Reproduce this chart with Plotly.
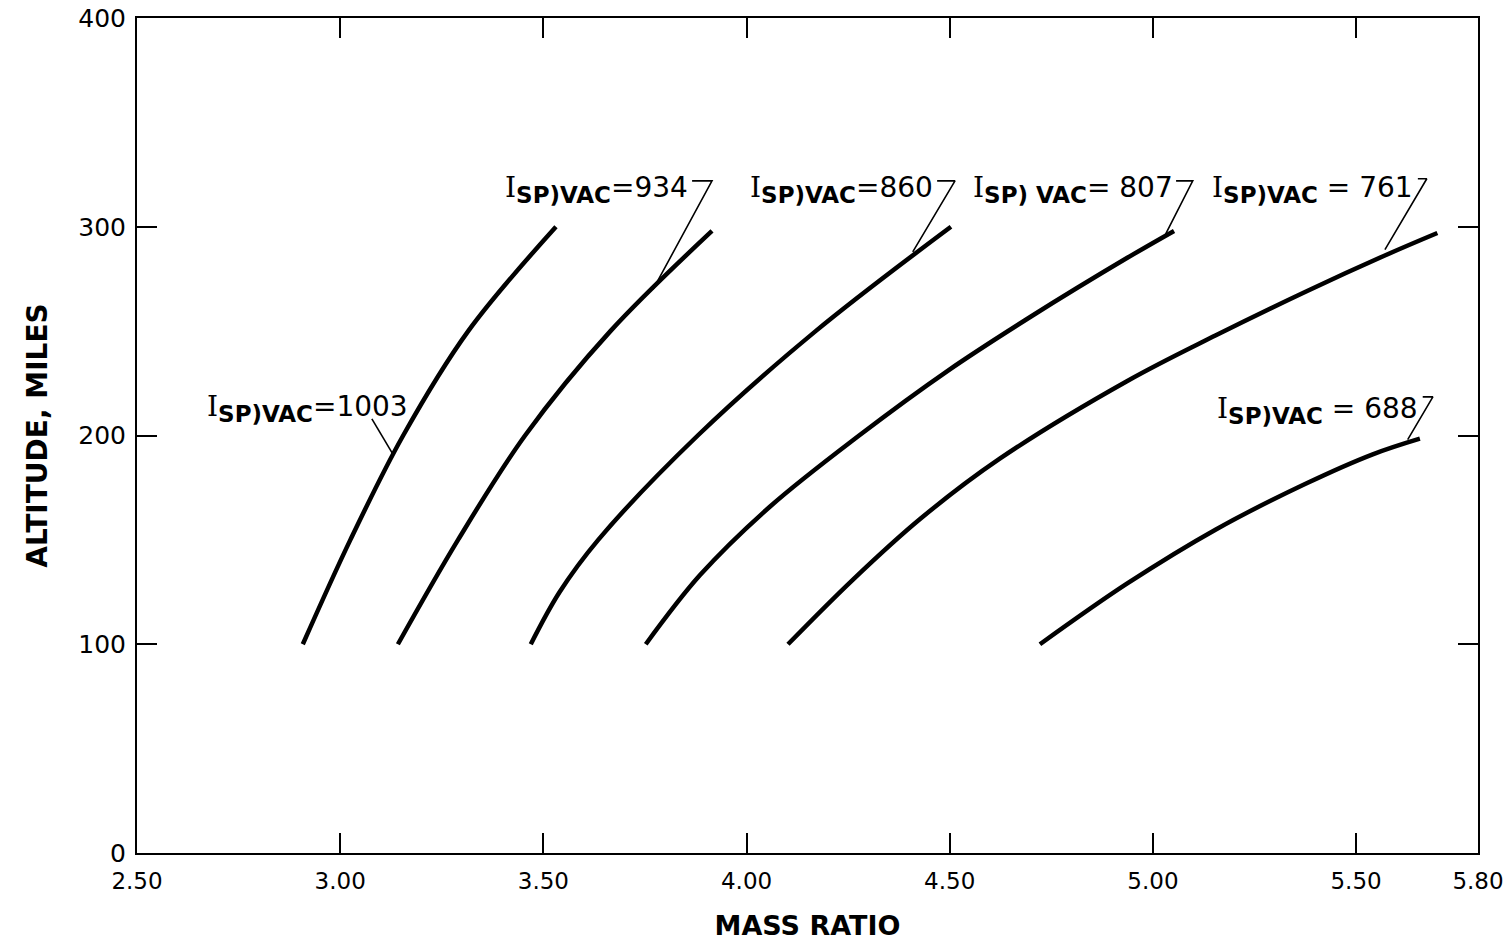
import plotly.graph_objects as go

# ---- data ----
isp_values = [1003, 934, 860, 807, 761, 688]
label_texts = [
    "I<sub>SP)VAC</sub>=1003",
    "I<sub>SP)VAC</sub>=934",
    "I<sub>SP)VAC</sub>=860",
    "I<sub>SP) VAC</sub>= 807",
    "I<sub>SP)VAC</sub> = 761",
    "I<sub>SP)VAC</sub> = 688",
]

alt_1003 = [100, 150, 200, 250, 300]
mr_1003 = [2.908, 3.025, 3.155, 3.315, 3.531]

alt_934 = [100, 150, 200, 250, 298]
mr_934 = [3.142, 3.29, 3.455, 3.665, 3.915]

alt_860 = [100, 125, 150, 200, 250, 300]
mr_860 = [3.469, 3.54, 3.635, 3.88, 4.17, 4.503]

alt_807 = [100, 133, 166, 200, 231, 257, 285, 298]
mr_807 = [3.752, 3.885, 4.058, 4.277, 4.495, 4.70, 4.936, 5.052]

alt_761 = [100, 131, 160, 189, 226, 248, 269, 286, 297]
mr_761 = [4.102, 4.262, 4.427, 4.624, 4.936, 5.155, 5.377, 5.568, 5.70]

alt_688 = [100, 129, 155, 177, 191, 198.5]
mr_688 = [4.722, 4.936, 5.155, 5.377, 5.541, 5.657]

x_tickvals = [2.50, 3.00, 3.50, 4.00, 4.50, 5.00, 5.50, 5.80]
x_ticktext = ["2.50", "3.00", "3.50", "4.00", "4.50", "5.00", "5.50", "5.80"]
y_tickvals = [0, 100, 200, 300, 400]

# label anchor (right edge, middle) in data units
label_x = [3.172, 3.861, 4.464, 5.054, 5.645, 5.657]
label_y = [213, 318, 318, 318, 318, 212]
# leader polylines (label end -> curve)
leader_x = [[3.078, 3.130],
            [3.866, 3.915, 3.770],
            [4.469, 4.513, 4.409],
            [5.057, 5.098, 5.030],
            [5.652, 5.674, 5.571],
            [5.664, 5.689, 5.627]]
leader_y = [[208, 191],
            [322, 322, 270],
            [322, 322, 288],
            [322, 322, 296],
            [323, 323, 289],
            [218.5, 218.5, 198]]

curves = [(mr_1003, alt_1003), (mr_934, alt_934), (mr_860, alt_860),
          (mr_807, alt_807), (mr_761, alt_761), (mr_688, alt_688)]

FONT = "DejaVu Sans"
fig = go.Figure()

for (mx, ay) in curves:
    fig.add_trace(go.Scatter(x=mx, y=ay, mode="lines",
                             line=dict(color="black", width=4.5, shape="spline", smoothing=1.0),
                             showlegend=False, hoverinfo="skip"))

for lx, ly in zip(leader_x, leader_y):
    fig.add_trace(go.Scatter(x=lx, y=ly, mode="lines",
                             line=dict(color="black", width=1.6),
                             showlegend=False, hoverinfo="skip"))


def styled(t):
    head, rest = t.split("<sub>")
    sub, tail = rest.split("</sub>")
    return ('<span style="font-family:DejaVu Serif">' + head + '</span>'
            '<sub><b><span style="font-size:23px">' + sub + '</span></b></sub>' + tail)


for txt, tx, ty in zip(label_texts, label_x, label_y):
    fig.add_annotation(x=tx, y=ty, xref="x", yref="y", text=styled(txt), showarrow=False,
                       xanchor="right", yanchor="middle",
                       font=dict(family=FONT, size=28, color="black"))

fig.update_xaxes(range=[2.50, 5.80], tickvals=x_tickvals, ticktext=x_ticktext,
                 showgrid=False, zeroline=False, showline=True, linecolor="black", linewidth=2,
                 mirror="ticks", ticks="inside", ticklen=20, tickwidth=2, tickcolor="black",
                 tickfont=dict(family=FONT, size=23, color="black"), ticklabelstandoff=6,
                 ticklabeloverflow="allow", automargin=False,
                 title=dict(text="<b>MASS RATIO</b>", font=dict(family=FONT, size=27, color="black"),
                            standoff=29))
fig.update_yaxes(range=[0, 400], tickvals=y_tickvals,
                 showgrid=False, zeroline=False, showline=True, linecolor="black", linewidth=2,
                 mirror="ticks", ticks="inside", ticklen=20, tickwidth=2, tickcolor="black",
                 tickfont=dict(family=FONT, size=25, color="black"), ticklabelstandoff=4,
                 ticklabeloverflow="allow", automargin=False,
                 title=dict(text="<b>ALTITUDE, MILES</b>", font=dict(family=FONT, size=28, color="black"),
                            standoff=22))

fig.update_layout(width=1503, height=941, paper_bgcolor="white", plot_bgcolor="white",
                  margin=dict(l=137, r=25, t=18, b=88))

# remove the default 8px page margin so the figure fills the window exactly
fig.write_html("out.html", config={"displayModeBar": False},
               post_script="document.body.style.margin='0';document.body.style.overflow='hidden';")
